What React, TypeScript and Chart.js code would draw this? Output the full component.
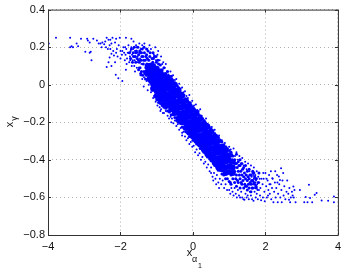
import React, { useEffect, useRef } from "react";
import { Chart, registerables } from "chart.js";

Chart.register(...registerables);

type P = [number, number];

const xTicks = [-4, -2, 0, 2, 4];
const yTicks = [-0.8, -0.6, -0.4, -0.2, 0, 0.2, 0.4];

const leftTail: P[] = [
  [-3.98,.22],[-3.78,.25],[-3.39,.25],[-3.39,.2],[-3.35,.205],[-3.31,.2],[-3.09,.245],[-3.21,.22],[-3.17,.205],[-2.92,.245],
  [-2.9,.235],[-2.85,.225],[-2.97,.175],[-2.85,.17],[-2.82,.175],[-2.8,.13],[-2.75,.245],[-2.65,.235],[-2.6,.22],[-2.55,.22],
  [-2.5,.225],[-2.45,.215],[-2.42,.23],[-2.38,.25],[-2.33,.24],[-2.28,.24],[-2.25,.22],[-2.22,.25],[-2.15,.225],[-2.12,.245],
  [-2.02,.25],[-1.85,.25],[-1.7,.245],[-2.05,.21],[-2,.18],[-2.1,.19],[-2.2,.18],[-2.25,.165],[-2.18,.155],[-2.3,.145],
  [-2.33,.12],[-2.38,.095],[-2.25,.1],[-2.15,.12],[-2.13,.053],[-2.06,.035],[-1.95,.02],[-1.85,.08],[-2.4,.2],[-2.3,.21],
  [-2.52,.2],[-2.35,.19],[-2.28,.19],[-2.12,.17],[-2.08,.15],[-2,.14],[-1.96,.16],[-1.92,.2],[-1.9,.17],[-1.88,.13],
  [-1.86,.16],[-1.84,.19],[-1.82,.14],[-1.8,.17],[-1.78,.21],[-1.76,.12],[-1.74,.15],[-1.72,.18],[-1.7,.2],[-1.68,.16],
  [-1.66,.13],[-1.64,.23],[-1.62,.1],[-1.6,.18],[-1.58,.15],[-1.56,.2],[-1.54,.12],[-1.52,.17],[-1.5,.09],[-1.48,.22],
  [-1.95,.18],[-1.87,.2],[-1.83,.11],[-1.77,.17],[-1.73,.13],[-1.69,.1],[-1.65,.19],[-1.61,.13],[-1.57,.21],[-1.53,.15],
  [-1.6,.07],[-1.55,.09],[-1.45,.05],[-1.4,.03],[-1.35,.04],[-1.28,.02],[-1.22,.0],[-1.18,.01],[-1.12,.0],[-1.08,.16],
  [-1.46,.14],[-1.44,.19],[-1.42,.11],[-1.4,.21],[-1.34,.22],[-1.26,.19],[-1.2,.21],[-1.16,.19],[-1.04,.2],[-1.02,.13],
  [-.98,.16],[-.96,.18],[-.92,.13],[-.88,.15],[-.85,.11],[-.82,.12],[-.78,.09],[-.75,.11],[-.72,.07],[-1.03,-.09],
  [-.98,-.11],[-.92,-.12],[-.9,-.14],[-.83,-.15],[-1.1,-.07],[-1.16,-.04],[-1.25,-.03],[-1.36,-.01],[-.6,-.2],[-.3,-.27],
];

const bandEdges: P[] = [
  [-.68,.055],[-.62,.07],[-.58,.035],[-.55,.05],[-.5,.025],[-.46,.03],[-.42,-.005],[-.38,.005],[-.34,-.02],[-.3,-.015],
  [-.26,-.04],[-.22,-.035],[-.18,-.06],[-.14,-.07],[-.1,-.055],[-.06,-.095],[-.02,-.085],[.03,-.11],[.08,-.105],[.12,-.135],
  [.16,-.14],[.2,-.13],[.24,-.165],[.28,-.18],[.32,-.19],[.36,-.18],[.4,-.21],[.44,-.215],[.48,-.24],[.52,-.225],
  [.56,-.25],[.6,-.24],[.64,-.27],[.68,-.28],[.72,-.27],[.76,-.3],[.8,-.295],[.84,-.32],[.88,-.31],[.92,-.33],
  [-.88,-.13],[-.8,-.15],[-.75,-.14],[-.7,-.165],[-.66,-.18],[-.62,-.17],[-.58,-.18],[-.54,-.205],[-.5,-.19],[-.46,-.22],
  [-.42,-.21],[-.38,-.24],[-.34,-.23],[-.3,-.255],[-.26,-.25],[-.22,-.275],[-.18,-.295],[-.14,-.285],[-.1,-.315],[-.06,-.305],
  [-.02,-.33],[.02,-.325],[.06,-.36],[.1,-.345],[.14,-.375],[.18,-.365],[.22,-.4],[.26,-.385],[.3,-.42],[.34,-.41],
  [.38,-.44],[.42,-.425],[.46,-.46],[.5,-.44],[.54,-.49],[.58,-.47],[.62,-.5],[.66,-.48],[.7,-.52],[.74,-.5],
  [.78,-.53],[.82,-.51],[.86,-.55],[.9,-.53],[.94,-.56],[.5,-.47],[.56,-.51],[.64,-.53],[.72,-.55],
];

const rightBody: P[] = [
  [1,-.33],[1.04,-.345],[1.08,-.37],[1.12,-.34],[1.16,-.38],[1.2,-.36],[1.24,-.4],[1.28,-.38],[1.32,-.42],[1.36,-.39],
  [1.4,-.43],[1.44,-.41],[1.48,-.45],[1.52,-.42],[1.56,-.46],[1.6,-.43],[1.64,-.47],[1.68,-.44],[1.72,-.48],[1.76,-.46],
  [1,-.56],[1.03,-.58],[1.06,-.55],[1.09,-.57],[1.12,-.59],[1.15,-.55],[1.18,-.58],[1.21,-.6],[1.24,-.56],[1.27,-.59],
  [1.3,-.6],[1.33,-.57],[1.36,-.6],[1.39,-.61],[1.42,-.612],[1.45,-.58],[1.48,-.6],[1.51,-.59],[1.54,-.61],[1.57,-.57],
  [1.6,-.59],[1.63,-.61],[1.67,-.618],[1.7,-.57],[1.73,-.6],[1.76,-.58],[1.79,-.61],[1.82,-.56],[1.85,-.59],[1.88,-.615],
  [1.62,-.49],[1.65,-.53],[1.68,-.5],[1.71,-.55],[1.74,-.51],[1.77,-.53],[1.8,-.49],[1.83,-.52],[1.86,-.55],[1.89,-.5],
  [1.78,-.56],[1.84,-.5],[1.72,-.52],[1.66,-.48],
];

const rightTail: P[] = [
  [3.2,-.533],[2.43,-.445],[2.37,-.489],[2.4,-.507],[2.19,-.498],[2.77,-.542],[2.95,-.56],[3.41,-.577],[3.36,-.586],[3.11,-.598],
  [3.23,-.603],[3.89,-.595],[3.89,-.626],[3.73,-.618],[3.55,-.616],[3.29,-.626],[3.16,-.626],[3.07,-.626],[2.83,-.626],[2.68,-.626],
  [2.65,-.612],[2.45,-.626],[2.34,-.626],[2.22,-.626],[1.92,-.53],[1.95,-.5],[1.97,-.57],[2,-.47],[2.02,-.54],[2.04,-.6],
  [2.06,-.51],[2.08,-.56],[2.1,-.48],[2.12,-.58],[2.14,-.53],[2.16,-.61],[2.18,-.55],[2.2,-.5],[2.24,-.57],[2.26,-.52],
  [2.28,-.6],[2.3,-.55],[2.32,-.48],[2.35,-.58],[2.38,-.53],[2.41,-.6],[2.44,-.56],[2.47,-.51],[2.5,-.59],[2.52,-.54],
  [2.55,-.61],[2.58,-.57],[2.6,-.51],[2.63,-.58],[2.66,-.55],[2.7,-.6],[2.73,-.57],[2.75,-.59],[2.78,-.6],[2.8,-.56],
  [1.93,-.6],[1.98,-.62],[2.03,-.5],[2.07,-.59],[2.11,-.53],[2.15,-.46],[2.27,-.46],[2.33,-.52],[2.49,-.47],[1.94,-.47],
];

const midDensity: P[] = [
  [-1.75,.17],[-1.72,.14],[-1.7,.19],[-1.67,.12],[-1.65,.17],[-1.62,.2],[-1.6,.15],[-1.58,.12],[-1.56,.18],[-1.54,.14],
  [-1.52,.2],[-1.5,.16],[-1.48,.12],[-1.46,.09],[-1.45,.17],[-1.43,.13],[-1.42,.07],[-1.4,.19],[-1.38,.15],[-1.37,.11],
  [-1.35,.07],[-1.34,.17],[-1.32,.13],[-1.31,.03],[-1.3,.09],[-1.28,.16],[-1.27,.11],[-1.25,.05],[-1.24,.18],[-1.22,.13],
  [-1.21,.08],[-1.2,.02],[-1.19,.15],[-1.17,.11],[-1.16,.06],[-1.14,.0],[-1.13,.14],[-1.11,.12],[-1.09,.14],[-1.08,-.01],
  [-1.06,.15],[-1.01,.12],[-.95,.11],[-.9,.105],[-.85,.08],[-.8,.09],[-.75,.06],[-.7,.07],[-.65,.04],[-.6,.045],
  [-.55,.015],[-.5,.01],[-.45,-.005],[-.4,-.015],[-.35,-.04],[-.3,-.045],[-.25,-.055],[-.2,-.075],[-.15,-.085],[-.1,-.095],
  [-.05,-.11],[0,-.12],[.05,-.135],[.1,-.14],[.15,-.16],[.2,-.165],[.25,-.18],[.3,-.19],[.35,-.205],[.4,-.21],
  [.45,-.225],[.5,-.235],[.55,-.245],[.6,-.26],[.65,-.27],[.7,-.28],[.75,-.295],[.8,-.305],[.85,-.32],[.9,-.33],
  [.95,-.34],[1,-.35],[-1,-.08],[-.95,-.095],[-.9,-.1],[-.85,-.11],[-.8,-.12],[-.75,-.125],[-.7,-.14],[-.65,-.145],
  [-.6,-.16],[-.55,-.16],[-.5,-.175],[-.45,-.19],[-.4,-.2],[-.35,-.205],[-.3,-.225],[-.25,-.23],[-.2,-.25],[-.15,-.255],
  [-.1,-.275],[-.05,-.275],[0,-.295],[.05,-.3],[.1,-.315],[.15,-.32],[.2,-.34],[.25,-.34],[.3,-.36],[.35,-.365],
  [.4,-.385],[.45,-.385],[.5,-.405],[.55,-.41],[.6,-.43],[.65,-.435],[.7,-.455],[.75,-.455],[.8,-.475],[.85,-.48],
  [.9,-.5],[.95,-.5],[1,-.515],[1.05,-.36],[1.05,-.42],[1.05,-.48],[1.05,-.53],[1.1,-.38],[1.1,-.44],[1.1,-.5],
  [1.15,-.4],[1.15,-.46],[1.15,-.52],[1.2,-.37],[1.2,-.42],[1.2,-.48],[1.2,-.54],[1.25,-.41],[1.25,-.46],[1.25,-.52],
  [1.3,-.4],[1.3,-.43],[1.3,-.5],[1.3,-.55],[1.35,-.42],[1.35,-.48],[1.35,-.53],[1.4,-.44],[1.4,-.49],[1.4,-.55],
  [1.45,-.43],[1.45,-.5],[1.45,-.54],[1.5,-.46],[1.5,-.51],[1.5,-.56],[1.55,-.45],[1.55,-.5],[1.55,-.55],[1.6,-.48],
  [1.6,-.53],[1.6,-.57],[1.65,-.46],[1.65,-.51],[1.65,-.55],[1.7,-.49],[1.7,-.53],[1.75,-.5],[1.75,-.55],
  [-1.5,.08],[-1.47,.18],[-1.44,.06],[-1.41,.15],[-1.39,.05],[-1.36,.13],[-1.33,.06],[-1.3,.15],[-1.29,.05],[-1.26,.14],
  [-1.24,.03],[-1.23,.1],[-1.18,.04],[-1.15,.02],[-1.13,.08],[-1.12,-.03],[-1.05,-.03],[-1.06,-.06],[-1.28,.19],[-1.18,.17],
  [-1.1,.17],[-1.35,.2],[-1.42,.17],[-1.5,.13],[-1.58,.17],[-1.64,.15],[-1.02,.15],[-.97,.13],
  [1.08,-.4],[1.12,-.47],[1.16,-.42],[1.18,-.5],[1.22,-.44],[1.23,-.51],[1.27,-.43],[1.28,-.48],[1.32,-.46],[1.33,-.52],
  [1.37,-.45],[1.38,-.51],[1.42,-.47],[1.43,-.53],[1.47,-.48],[1.48,-.54],[1.52,-.49],[1.53,-.53],[1.57,-.48],[1.58,-.52],
  [1.62,-.51],[1.63,-.55],[1.68,-.47],[1.68,-.52],[1.73,-.5],[1.74,-.54],[1.8,-.52],[1.82,-.47],[1.02,-.38],[1.03,-.52],
];

const denseCore: P[] = [
  [-1.25,.1],[-1.25,.07],[-1.2,.1],[-1.2,.06],[-1.2,.03],[-1.15,.09],[-1.15,.05],[-1.15,.02],
  [-1.1,.1],[-1.1,.07],[-1.1,.04],[-1.1,.01],[-1.1,-.02],
  [-1,.085],[-1,.055],[-1,.025],[-1,-.005],[-1,-.035],[-1,-.06],
  [-.9,.07],[-.9,.04],[-.9,.01],[-.9,-.02],[-.9,-.05],[-.9,-.08],
  [-.8,.05],[-.8,.02],[-.8,-.01],[-.8,-.04],[-.8,-.07],[-.8,-.1],
  [-.7,.04],[-.7,.01],[-.7,-.02],[-.7,-.05],[-.7,-.08],[-.7,-.11],
  [-.6,.02],[-.6,-.01],[-.6,-.04],[-.6,-.07],[-.6,-.1],[-.6,-.13],
  [-.5,.0],[-.5,-.03],[-.5,-.06],[-.5,-.09],[-.5,-.12],[-.5,-.15],
  [-.4,-.03],[-.4,-.06],[-.4,-.09],[-.4,-.12],[-.4,-.15],[-.4,-.18],
  [-.3,-.06],[-.3,-.09],[-.3,-.12],[-.3,-.15],[-.3,-.18],[-.3,-.2],
  [-.2,-.085],[-.2,-.115],[-.2,-.145],[-.2,-.175],[-.2,-.205],[-.2,-.23],
  [-.1,-.11],[-.1,-.14],[-.1,-.17],[-.1,-.2],[-.1,-.23],[-.1,-.255],
  [0,-.135],[0,-.165],[0,-.195],[0,-.225],[0,-.255],[0,-.275],
  [.1,-.155],[.1,-.185],[.1,-.215],[.1,-.245],[.1,-.275],[.1,-.3],
  [.2,-.18],[.2,-.21],[.2,-.24],[.2,-.27],[.2,-.3],[.2,-.32],
  [.3,-.205],[.3,-.235],[.3,-.265],[.3,-.295],[.3,-.325],[.3,-.345],
  [.4,-.225],[.4,-.255],[.4,-.285],[.4,-.315],[.4,-.345],[.4,-.37],
  [.5,-.25],[.5,-.28],[.5,-.31],[.5,-.34],[.5,-.37],[.5,-.39],
  [.6,-.275],[.6,-.305],[.6,-.335],[.6,-.365],[.6,-.395],[.6,-.415],
  [.7,-.3],[.7,-.33],[.7,-.36],[.7,-.39],[.7,-.42],[.7,-.44],
  [.8,-.33],[.8,-.36],[.8,-.39],[.8,-.42],[.8,-.45],
  [.9,-.35],[.9,-.38],[.9,-.41],[.9,-.44],[.9,-.47],
  [1,-.375],[1,-.405],[1,-.435],[1,-.465],
  [1.1,-.41],[1.1,-.44],[1.1,-.47],
  [-1.05,.06],[-.95,.02],[-.85,.0],[-.75,-.02],[-.65,-.05],[-.55,-.07],[-.45,-.1],[-.35,-.12],[-.25,-.15],[-.15,-.17],
  [-.05,-.2],[.05,-.22],[.15,-.24],[.25,-.27],[.35,-.29],[.45,-.31],[.55,-.34],[.65,-.36],[.75,-.39],[.85,-.41],
  [-1.05,.0],[-.95,-.03],[-.85,-.05],[-.75,-.07],[-.65,-.1],[-.55,-.12],[-.45,-.14],[-.35,-.17],[-.25,-.19],[-.15,-.21],
  [-.05,-.24],[.05,-.26],[.15,-.28],[.25,-.31],[.35,-.33],[.45,-.35],[.55,-.38],[.65,-.4],[.75,-.42],[.85,-.44],
  [-.95,.06],[-.85,.05],[-.75,.02],[-.65,.0],[-.55,-.02],[-.45,-.05],[-.35,-.08],[-.25,-.11],[-.15,-.13],[-.05,-.16],
  [.05,-.18],[.15,-.2],[.25,-.23],[.35,-.25],[.45,-.27],[.55,-.3],[.65,-.32],[.75,-.34],[.85,-.37],[.95,-.4],
];

const sparse = [...leftTail, ...bandEdges, ...rightBody, ...rightTail];

const fontFamily = "'Liberation Sans', Arial, sans-serif";

const frame = {
  id: "frame",
  afterDraw(chart: any) {
    const { ctx, chartArea: a, scales } = chart;
    ctx.save();
    ctx.strokeStyle = "#333";
    ctx.lineWidth = 1;
    ctx.beginPath();
    ctx.rect(a.left + 0.5, a.top + 0.5, a.right - a.left, a.bottom - a.top);
    const len = 3;
    for (const t of xTicks) {
      const p = Math.round(scales.x.getPixelForValue(t)) + 0.5;
      ctx.moveTo(p, a.bottom); ctx.lineTo(p, a.bottom - len);
      ctx.moveTo(p, a.top); ctx.lineTo(p, a.top + len);
    }
    for (const t of yTicks) {
      const p = Math.round(scales.y.getPixelForValue(t)) + 0.5;
      ctx.moveTo(a.left, p); ctx.lineTo(a.left + len, p);
      ctx.moveTo(a.right, p); ctx.lineTo(a.right - len, p);
    }
    ctx.stroke();

    ctx.fillStyle = "#111";
    ctx.textAlign = "center";
    ctx.textBaseline = "alphabetic";
    ctx.font = `11px ${fontFamily}`;
    ctx.fillText("x", 189.5, 256);
    ctx.font = `9px ${fontFamily}`;
    ctx.fillText("α", 194.5, 262);
    ctx.font = `7px ${fontFamily}`;
    ctx.fillText("1", 200, 268);

    ctx.translate(13, 124.5);
    ctx.rotate(-Math.PI / 2);
    ctx.font = `11px ${fontFamily}`;
    ctx.fillText("x", 0, 0);
    ctx.font = `9px ${fontFamily}`;
    ctx.fillText("γ", 6, 4);
    ctx.restore();
  },
};

export default function App() {
  const ref = useRef<HTMLCanvasElement>(null);
  useEffect(() => {
    document.body.style.margin = "0";
    const tickLabel = (v: any) =>
      String(Math.round(Number(v) * 10) / 10).replace("-", "\u2212");
    const chart = new Chart(ref.current!, {
      type: "scatter",
      data: {
        datasets: [
          {
            data: denseCore.map(([x, y]) => ({ x, y })),
            backgroundColor: "#0000ff",
            borderWidth: 0,
            pointRadius: 3,
          },
          {
            data: midDensity.map(([x, y]) => ({ x, y })),
            backgroundColor: "#0000ff",
            borderWidth: 0,
            pointRadius: 1.5,
          },
          {
            data: sparse.map(([x, y]) => ({ x, y })),
            backgroundColor: "#0000ff",
            borderWidth: 0,
            pointRadius: 1,
          },
        ],
      },
      options: {
        responsive: false,
        animation: false,
        layout: { padding: { top: 8, right: 6, left: 0, bottom: 0 } },
        plugins: { legend: { display: false }, tooltip: { enabled: false } },
        scales: {
          x: {
            type: "linear",
            min: -4,
            max: 4,
            afterFit: (s: any) => { s.height = 35; },
            afterBuildTicks: (s: any) => { s.ticks = xTicks.map((value) => ({ value })); },
            grid: { color: "#b0b0b0", drawTicks: false, tickLength: 0 },
            border: { display: false, dash: [1, 3] },
            ticks: {
              maxRotation: 0,
              padding: 5,
              color: "#111",
              font: { family: fontFamily, size: 11 },
              callback: tickLabel,
            },
          },
          y: {
            type: "linear",
            min: -0.8,
            max: 0.4,
            afterFit: (s: any) => { s.width = 48; },
            afterBuildTicks: (s: any) => { s.ticks = yTicks.map((value) => ({ value })); },
            grid: { color: "#b0b0b0", drawTicks: false, tickLength: 0 },
            border: { display: false, dash: [1, 3] },
            ticks: {
              padding: 3,
              color: "#111",
              font: { family: fontFamily, size: 11 },
              callback: tickLabel,
            },
          },
        },
      },
      plugins: [frame],
    } as any);
    return () => chart.destroy();
  }, []);
  return <canvas ref={ref} width={346} height={270} style={{ display: "block" }} />;
}
